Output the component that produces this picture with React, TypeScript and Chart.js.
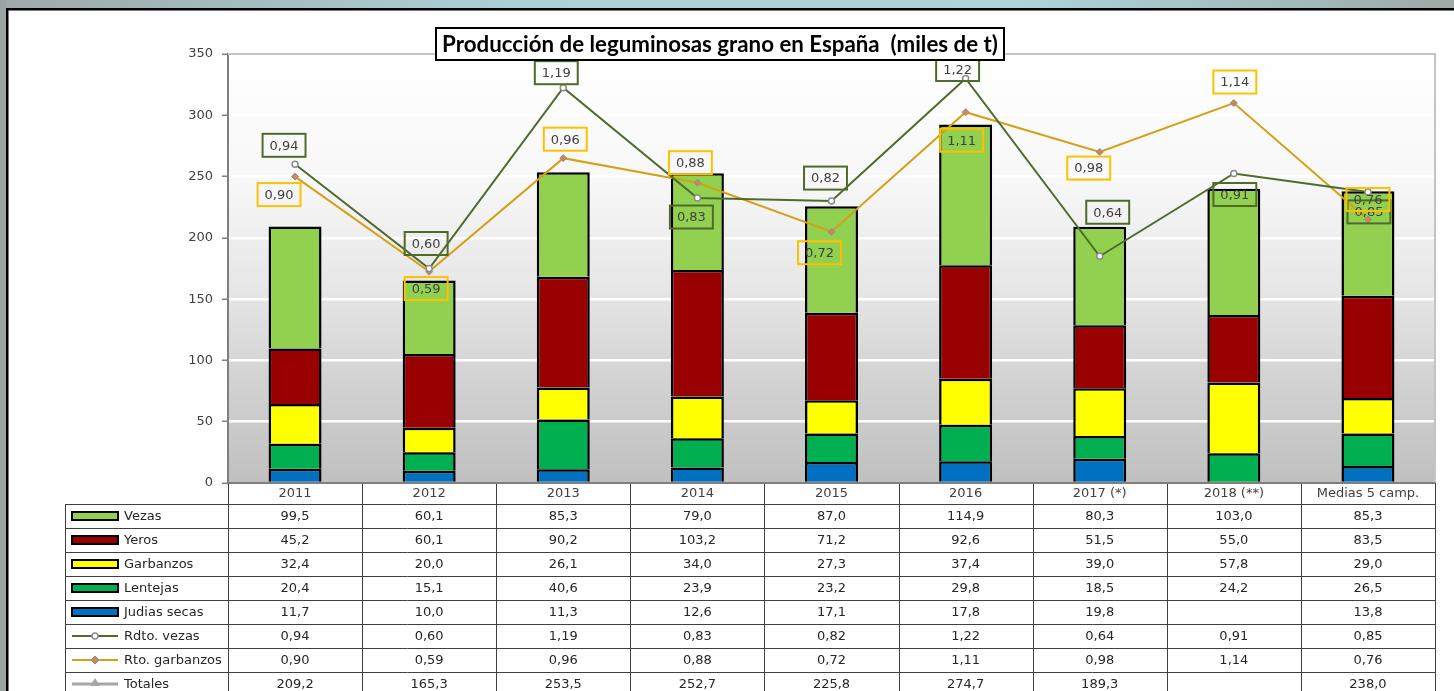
import React, { useEffect, useRef } from 'react';
import { Chart, registerables } from 'chart.js';

Chart.register(...registerables);

// ---------- DATA ----------
const categories = ['2011', '2012', '2013', '2014', '2015', '2016', '2017 (*)', '2018 (**)', 'Medias 5 camp.'];
const vezas = [99.5, 60.1, 85.3, 79.0, 87.0, 114.9, 80.3, 103.0, 85.3];
const yeros = [45.2, 60.1, 90.2, 103.2, 71.2, 92.6, 51.5, 55.0, 83.5];
const garbanzos = [32.4, 20.0, 26.1, 34.0, 27.3, 37.4, 39.0, 57.8, 29.0];
const lentejas = [20.4, 15.1, 40.6, 23.9, 23.2, 29.8, 18.5, 24.2, 26.5];
const judias = [11.7, 10.0, 11.3, 12.6, 17.1, 17.8, 19.8, null, 13.8];
const rdtoVezas = [0.94, 0.60, 1.19, 0.83, 0.82, 1.22, 0.64, 0.91, 0.85];
const rtoGarbanzos = [0.90, 0.59, 0.96, 0.88, 0.72, 1.11, 0.98, 1.14, 0.76];
const totales = [209.2, 165.3, 253.5, 252.7, 225.8, 274.7, 189.3, null, 238.0];

const TITLE = 'Producción de leguminosas grano en España  (miles de t)';

// ---------- STYLE ----------
const C_VEZAS = '#92d050';
const C_YEROS = '#990000';
const C_GARB = '#ffff00';
const C_LENT = '#00b050';
const C_JUD = '#0070c0';
const C_RDTO = '#4f6b2c';
const C_RTO = '#d4a017';
const C_TOT = '#a6a6a6';
const FONT = '"DejaVu Sans", Verdana, sans-serif';

// label box offsets relative to the point (style / placement only)
const vezasLabelOffsets = [[-11, -19], [-3, -25], [-7, -15], [-6, 19], [-6, -23], [-8, -9], [8, -44], [1, 21], [1, 20]];
const garbLabelOffsets = [[-16, 18], [-3, 17], [2, -19], [-7, -20], [-12, 21], [-4, 28], [-11, 16], [1, -21], [0, -20]];

const fmt = (v: number | null, d: number) => (v == null ? '' : v.toFixed(d).replace('.', ','));

type Row = { name: string; values: (number | null)[]; dec: number; key: string; color: string };
const tableRows: Row[] = [
  { name: 'Vezas', values: vezas, dec: 1, key: 'bar', color: C_VEZAS },
  { name: 'Yeros', values: yeros, dec: 1, key: 'bar', color: C_YEROS },
  { name: 'Garbanzos', values: garbanzos, dec: 1, key: 'bar', color: C_GARB },
  { name: 'Lentejas', values: lentejas, dec: 1, key: 'bar', color: C_LENT },
  { name: 'Judias secas', values: judias, dec: 1, key: 'bar', color: C_JUD },
  { name: 'Rdto. vezas', values: rdtoVezas, dec: 2, key: 'circle', color: C_RDTO },
  { name: 'Rto. garbanzos', values: rtoGarbanzos, dec: 2, key: 'diamond', color: C_RTO },
  { name: 'Totales', values: totales, dec: 1, key: 'triangle', color: C_TOT },
];

const frameBg = {
  id: 'frameBg',
  beforeDraw(chart: any) {
    const { ctx, width, height, chartArea: a } = chart;
    ctx.save();
    ctx.fillStyle = '#ffffff';
    ctx.fillRect(0, 0, width, height);
    const g = ctx.createLinearGradient(0, 0, width, 0);
    g.addColorStop(0, '#9eaaa8');
    g.addColorStop(0.35, '#acd0d8');
    g.addColorStop(0.7, '#acd4dc');
    g.addColorStop(1, '#9eaaa7');
    ctx.fillStyle = g;
    ctx.fillRect(0, 0, width, 8);
    ctx.fillStyle = '#9ba6a4';
    ctx.fillRect(0, 0, 6, height);
    ctx.fillStyle = '#000000';
    ctx.fillRect(6, 8, width - 6, 2.5);
    ctx.fillRect(6, 8, 2.5, height - 8);
    const pg = ctx.createLinearGradient(0, a.top, 0, a.bottom);
    pg.addColorStop(0, '#ffffff');
    pg.addColorStop(0.3, '#f7f7f7');
    pg.addColorStop(0.55, '#e6e6e6');
    pg.addColorStop(0.75, '#d3d3d3');
    pg.addColorStop(1, '#c0c0c0');
    ctx.fillStyle = pg;
    ctx.fillRect(a.left, a.top, a.right - a.left, a.bottom - a.top);
    ctx.restore();
  },
  beforeDatasetsDraw(chart: any) {
    const { ctx, chartArea: a } = chart;
    ctx.save();
    ctx.strokeStyle = '#c4c4c4';
    ctx.lineWidth = 2;
    ctx.beginPath();
    ctx.moveTo(a.left, a.top);
    ctx.lineTo(a.right, a.top);
    ctx.lineTo(a.right, a.bottom);
    ctx.stroke();
    ctx.restore();
  },
};

const labelBoxes = {
  id: 'labelBoxes',
  afterDatasetsDraw(chart: any, _args: any, opts: any) {
    const ctx = chart.ctx;
    ctx.save();
    ctx.font = '13px ' + FONT;
    ctx.textAlign = 'center';
    ctx.textBaseline = 'middle';
    (opts.items || []).forEach((it: any) => {
      const meta = chart.getDatasetMeta(it.datasetIndex);
      const data = chart.data.datasets[it.datasetIndex].data;
      meta.data.forEach((pt: any, i: number) => {
        const v = data[i];
        if (v == null) return;
        const [dx, dy] = it.offsets[i];
        const cx = pt.x + dx;
        const cy = pt.y + dy;
        const text = fmt(v, 2);
        const tw = ctx.measureText(text).width;
        const w = tw + 14;
        const h = 23;
        ctx.strokeStyle = it.color;
        ctx.lineWidth = 2;
        ctx.strokeRect(cx - w / 2, cy - h / 2, w, h);
        ctx.fillStyle = '#404040';
        ctx.fillText(text, cx, cy + 1);
      });
    });
    ctx.restore();
  },
};

const tablePlugin = {
  id: 'dataTable',
  afterDraw(chart: any) {
    const { ctx, height, chartArea: a } = chart;
    const xs = chart.scales.x;
    const n = categories.length;
    const colW = (a.right - a.left) / n;
    const y0 = a.bottom;
    const hdrB = y0 + 21;
    const rowH = 24;
    const legL = 65;
    ctx.save();
    // grid
    ctx.strokeStyle = '#404040';
    ctx.lineWidth = 1;
    ctx.beginPath();
    for (let i = 0; i <= n; i++) {
      const x = Math.round(a.left + i * colW) + 0.5;
      ctx.moveTo(x, y0);
      ctx.lineTo(x, height);
    }
    ctx.moveTo(legL + 0.5, hdrB);
    ctx.lineTo(legL + 0.5, height);
    for (let r = 0; r <= tableRows.length; r++) {
      const y = Math.round(hdrB + r * rowH) + 0.5;
      ctx.moveTo(legL, y);
      ctx.lineTo(a.right, y);
    }
    ctx.stroke();
    // x axis line
    ctx.strokeStyle = '#7f7f7f';
    ctx.lineWidth = 2;
    ctx.beginPath();
    ctx.moveTo(a.left - 1, y0);
    ctx.lineTo(a.right, y0);
    ctx.stroke();

    ctx.font = '13px ' + FONT;
    ctx.textBaseline = 'middle';
    ctx.textAlign = 'center';
    ctx.fillStyle = '#404040';
    categories.forEach((c, i) => {
      ctx.fillText(c, xs.getPixelForValue(i), y0 + 11);
    });
    tableRows.forEach((row, r) => {
      const cy = hdrB + r * rowH + 12;
      ctx.fillStyle = '#262626';
      ctx.textAlign = 'center';
      row.values.forEach((v, i) => {
        ctx.fillText(fmt(v, row.dec), xs.getPixelForValue(i), cy + 1);
      });
      ctx.textAlign = 'left';
      ctx.fillText(row.name, 124, cy + 1);
      // legend key
      const kx0 = 72;
      const kx1 = 118;
      const km = (kx0 + kx1) / 2;
      if (row.key === 'bar') {
        ctx.fillStyle = row.color;
        ctx.fillRect(kx0, cy - 4, kx1 - kx0, 8);
        ctx.strokeStyle = '#000';
        ctx.lineWidth = 2;
        ctx.strokeRect(kx0, cy - 4, kx1 - kx0, 8);
      } else {
        ctx.strokeStyle = row.color;
        ctx.lineWidth = row.key === 'triangle' ? 3 : 2;
        ctx.beginPath();
        ctx.moveTo(kx0, cy);
        ctx.lineTo(kx1, cy);
        ctx.stroke();
        if (row.key === 'circle') {
          ctx.fillStyle = '#fff';
          ctx.strokeStyle = '#8c8c8c';
          ctx.lineWidth = 1.5;
          ctx.beginPath();
          ctx.arc(km, cy, 3, 0, Math.PI * 2);
          ctx.fill();
          ctx.stroke();
        } else if (row.key === 'diamond') {
          ctx.fillStyle = '#ed7d31';
          ctx.strokeStyle = '#5b9bd5';
          ctx.lineWidth = 1;
          ctx.beginPath();
          ctx.moveTo(km, cy - 4);
          ctx.lineTo(km + 4, cy);
          ctx.lineTo(km, cy + 4);
          ctx.lineTo(km - 4, cy);
          ctx.closePath();
          ctx.fill();
          ctx.stroke();
        } else {
          ctx.fillStyle = C_TOT;
          ctx.beginPath();
          ctx.moveTo(km, cy - 6);
          ctx.lineTo(km + 5, cy + 2);
          ctx.lineTo(km - 5, cy + 2);
          ctx.closePath();
          ctx.fill();
        }
      }
    });
    ctx.restore();
  },
};

const titlePlugin = {
  id: 'boxTitle',
  afterDraw(chart: any) {
    const ctx = chart.ctx;
    ctx.save();
    const targetW = 556;
    ctx.font = 'bold 18px Lato, "Open Sans", sans-serif';
    const mw = ctx.measureText(TITLE).width;
    const size = 18 * targetW / mw;
    ctx.font = `bold ${size.toFixed(2)}px Lato, "Open Sans", sans-serif`;
    const cx = 720;
    const bx0 = 436;
    const bx1 = 1004;
    const by0 = 28;
    const by1 = 60;
    ctx.fillStyle = '#ffffff';
    ctx.fillRect(bx0, by0, bx1 - bx0, by1 - by0);
    ctx.strokeStyle = '#000000';
    ctx.lineWidth = 2;
    ctx.strokeRect(bx0, by0, bx1 - bx0, by1 - by0);
    ctx.fillStyle = '#000000';
    ctx.textAlign = 'center';
    ctx.textBaseline = 'middle';
    ctx.fillText(TITLE, cx, (by0 + by1) / 2 + 1);
    ctx.restore();
  },
};

const barDs = (label: string, data: (number | null)[], color: string) => ({
  type: 'bar' as const,
  label,
  data,
  backgroundColor: color,
  borderColor: '#000000',
  borderWidth: 2.5,
  yAxisID: 'y',
  stack: 's',
  order: 2,
  barPercentage: 0.395,
  categoryPercentage: 1,
});

export default function App() {
  const ref = useRef<HTMLCanvasElement | null>(null);
  useEffect(() => {
    if (!ref.current) return;
    const chart = new Chart(ref.current, {
      type: 'bar',
      data: {
        labels: categories,
        datasets: [
          barDs('Judias secas', judias, C_JUD),
          barDs('Lentejas', lentejas, C_LENT),
          barDs('Garbanzos', garbanzos, C_GARB),
          barDs('Yeros', yeros, C_YEROS),
          barDs('Vezas', vezas, C_VEZAS),
          {
            type: 'line',
            label: 'Rto. garbanzos',
            data: rtoGarbanzos,
            yAxisID: 'y2',
            borderColor: C_RTO,
            borderWidth: 2,
            pointStyle: 'rectRot',
            pointRadius: 3.5,
            pointBackgroundColor: '#ed7d31',
            pointBorderColor: '#5b9bd5',
            pointBorderWidth: 1,
            tension: 0,
            order: 1,
          } as any,
          {
            type: 'line',
            label: 'Rdto. vezas',
            data: rdtoVezas,
            yAxisID: 'y2',
            borderColor: C_RDTO,
            borderWidth: 2,
            pointStyle: 'circle',
            pointRadius: 3,
            pointBackgroundColor: '#ffffff',
            pointBorderColor: '#8c8c8c',
            pointBorderWidth: 1.5,
            tension: 0,
            order: 0,
          } as any,
        ],
      },
      options: {
        responsive: false,
        animation: false,
        devicePixelRatio: 1,
        events: [],
        layout: { padding: { left: 0, top: 54, right: 19, bottom: 208 } },
        plugins: {
          legend: { display: false },
          tooltip: { enabled: false },
          title: { display: false },
          labelBoxes: {
            items: [
              { datasetIndex: 6, offsets: vezasLabelOffsets, color: C_RDTO },
              { datasetIndex: 5, offsets: garbLabelOffsets, color: '#ffc000' },
            ],
          },
        } as any,
        scales: {
          x: { type: 'category', display: false, stacked: true, offset: true, grid: { display: false } },
          y: {
            stacked: true,
            min: 0,
            max: 350,
            position: 'left',
            ticks: { stepSize: 50, font: { family: FONT, size: 13 }, color: '#404040', padding: 9 },
            grid: { color: '#ffffff', lineWidth: 2.5, tickColor: '#808080', tickLength: 6, tickWidth: 1.5 },
            border: { color: '#7f7f7f', width: 2 },
            afterFit: (s: any) => {
              s.width = 228;
            },
          },
          y2: { display: false, min: -0.1, max: 1.3, position: 'right', stacked: false, grid: { drawOnChartArea: false } },
        } as any,
      },
      plugins: [frameBg, labelBoxes, tablePlugin, titlePlugin],
    });
    return () => chart.destroy();
  }, []);
  return (
    <div style={{ position: 'fixed', left: 0, top: 0, width: 1454, height: 691 }}>
      <canvas ref={ref} width={1454} height={691} style={{ display: 'block', width: 1454, height: 691 }} />
    </div>
  );
}
